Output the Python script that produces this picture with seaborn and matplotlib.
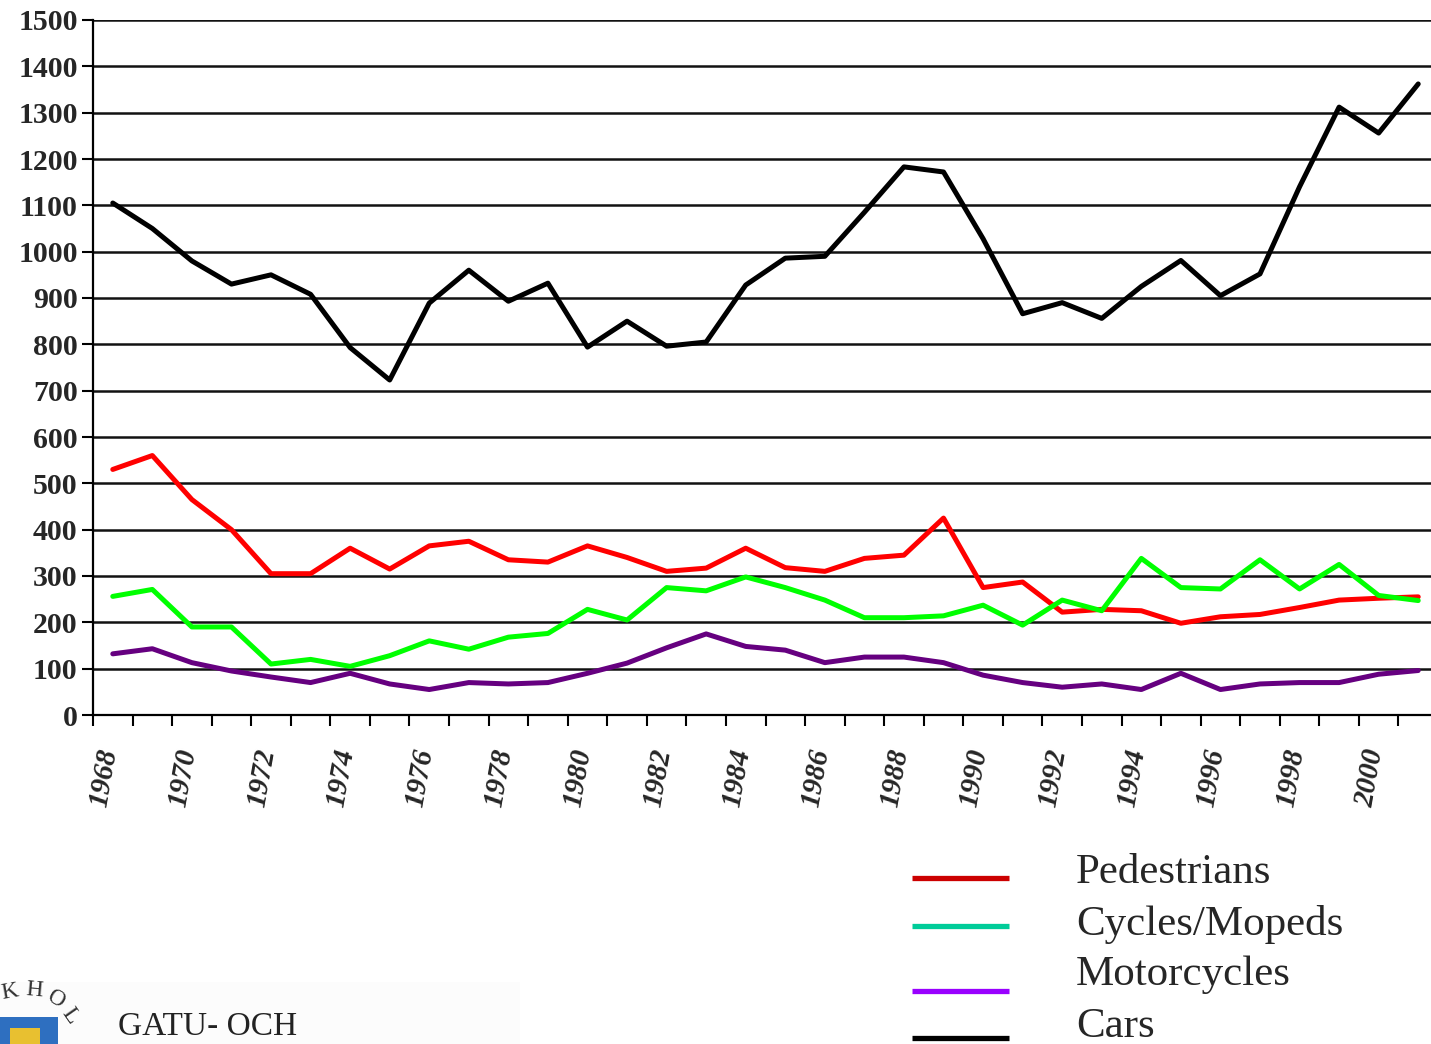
import numpy as np
import pandas as pd
import matplotlib.pyplot as plt
import matplotlib.transforms as mtransforms
from matplotlib.lines import Line2D
from matplotlib.patches import Rectangle
import seaborn as sns

# data (killed/injured per year, Stockholm)
years = list(range(1968, 2002))
pedestrians = [530, 560, 465, 400, 305, 305, 360, 315, 365, 375, 335, 330, 365, 340, 310, 317, 360, 318, 310, 338, 345, 425, 275, 287, 222, 228, 225, 198, 212, 217, 232, 248, 252, 255]
cycles = [256, 271, 190, 190, 110, 120, 105, 128, 160, 142, 168, 176, 228, 205, 275, 268, 298, 275, 248, 210, 210, 214, 237, 194, 248, 225, 338, 275, 272, 335, 272, 325, 258, 247]
motorcycles = [132, 143, 113, 95, 82, 70, 90, 67, 55, 70, 67, 70, 90, 112, 145, 175, 148, 140, 113, 125, 125, 113, 86, 70, 60, 67, 55, 90, 55, 67, 70, 70, 88, 96]
cars = [1105, 1050, 980, 930, 950, 908, 793, 723, 889, 960, 893, 932, 794, 850, 796, 805, 928, 986, 990, 1085, 1183, 1172, 1028, 866, 890, 856, 925, 981, 905, 952, 1140, 1312, 1256, 1362]

series_names = ["Pedestrians", "Cycles/Mopeds", "Motorcycles", "Cars"]
line_colors = ["#ff0000", "#00ff00", "#660080", "#000000"]
legend_colors = ["#cc0000", "#00cc99", "#9900ff", "#000000"]
y_ticks = list(range(0, 1600, 100))

df = pd.DataFrame({"year": years, "Pedestrians": pedestrians, "Cycles/Mopeds": cycles,
                   "Motorcycles": motorcycles, "Cars": cars})
long_df = df.melt(id_vars="year", var_name="type", value_name="count")

sns.set_style("white")
plt.rcParams["font.family"] = ["Liberation Serif", "DejaVu Serif"]

fig = plt.figure(figsize=(14.31, 10.44), dpi=100)
ax = fig.add_axes([93 / 1431, 1 - 715 / 1044, (1438 - 93) / 1431, (715 - 20) / 1044])

sns.lineplot(data=long_df, x="year", y="count", hue="type", hue_order=series_names,
             palette=dict(zip(series_names, line_colors)), linewidth=3.6,
             legend=False, ax=ax, zorder=3)

ax.set_xlim(1967.5, 2001.5)
ax.set_ylim(0, 1500)
ax.set_yticks(y_ticks)
ax.set_yticklabels([str(v) for v in y_ticks], fontsize=21.5, fontweight="bold")
ax.yaxis.grid(True, color="#111111", linewidth=1.8)
ax.set_axisbelow(True)

# year labels every second year, boundary ticks between categories
ax.set_xticks(years[::2])
ax.set_xticklabels([str(y) for y in years[::2]], fontsize=21, fontweight="bold",
                   fontstyle="italic", rotation=80, ha="center", va="top")
ax.set_xticks([y - 0.5 for y in years], minor=True)
ax.tick_params(axis="x", which="major", length=0, pad=23)
ax.tick_params(axis="x", which="minor", length=8, width=1.5, color="black", direction="out", bottom=True)
ax.tick_params(axis="y", length=8, width=1.5, color="black", direction="out", left=True, pad=3)
shift = mtransforms.ScaledTranslation(-9 / 100, 0, fig.dpi_scale_trans)
for lab in ax.get_xticklabels():
    lab.set_transform(lab.get_transform() + shift)

for side in ["top", "right"]:
    ax.spines[side].set_visible(False)
for side in ["left", "bottom"]:
    ax.spines[side].set_color("black")
    ax.spines[side].set_linewidth(1.6)
ax.set_xlabel("")
ax.set_ylabel("")

# legend drawn by hand (line keys and text are not aligned evenly in the original)
key_y = [878, 926, 991, 1038]
text_y = [873, 925, 975, 1027]
for name, col, ky, ty in zip(series_names, legend_colors, key_y, text_y):
    fig.add_artist(Line2D([912 / 1431, 1009 / 1431], [1 - ky / 1044] * 2, color=col,
                          linewidth=3.8, solid_capstyle="butt", transform=fig.transFigure))
    fig.text(1076 / 1431, 1 - ty / 1044, name, fontsize=31, va="center", ha="left")

# logo fragment, bottom left
fig.add_artist(Rectangle((0, 0), 520 / 1431, 62 / 1044, transform=fig.transFigure,
                         facecolor="#fcfcfc", edgecolor="none", zorder=0))
fig.add_artist(Rectangle((0, 0), 58 / 1431, 27 / 1044, transform=fig.transFigure,
                         facecolor="#2e6fc0", edgecolor="none"))
fig.add_artist(Rectangle((10 / 1431, 0), 30 / 1431, 16 / 1044, transform=fig.transFigure,
                         facecolor="#e8c030", edgecolor="none"))
for ch, x, y, r in [("K", 10, 992, 10), ("H", 34, 990, -5), ("O", 56, 1000, -30), ("L", 70, 1016, -55)]:
    fig.text(x / 1431, 1 - y / 1044, ch, fontsize=17, rotation=r, ha="center", va="center", color="#333333")
fig.text(118 / 1431, 1 - 1035 / 1044, "GATU- OCH", fontsize=24, ha="left", va="baseline", color="#222222")

fig.savefig("out.png", dpi=100)
